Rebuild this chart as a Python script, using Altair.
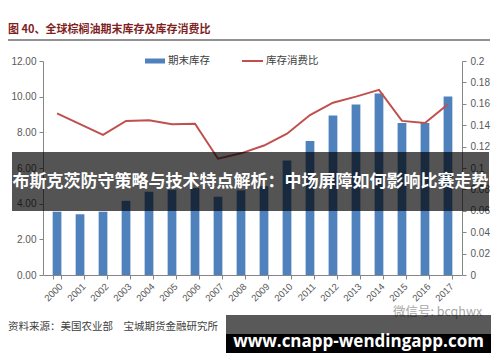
import altair as alt
import pandas as pd

years = [str(y) for y in range(2000, 2018)]
stocks = [3.55, 3.40, 3.55, 4.16, 4.67, 4.78, 4.88, 4.39, 4.75, 4.98, 6.42, 7.52, 8.95, 9.56, 10.18, 8.53, 8.53, 10.01]
ratio = [0.151, 0.141, 0.131, 0.144, 0.1446, 0.141, 0.1414, 0.1087, 0.1137, 0.121, 0.132, 0.1495, 0.161, 0.1667, 0.173, 0.144, 0.142, 0.1595]

title_text = "图 40、全球棕榈油期末库存及库存消费比"
legend_bar = "期末库存"
legend_line = "库存消费比"
source_text = "资料来源：美国农业部\u3000宝城期货金融研究所"
banner_text = "布斯克茨防守策略与技术特点解析：中场屏障如何影响比赛走势"
url_text = "www.cnapp-wendingapp.com"
wm_text = "微信号: bcqhwx"

df = pd.DataFrame({"year": years, "stock": stocks, "ratio": ratio})
one = pd.DataFrame({"a": [0]})

FONT = "Noto Sans CJK SC"
AX = "#868686"
LAB = "#595959"

xenc = alt.X("year:N", sort=years,
             scale=alt.Scale(paddingInner=0.62, paddingOuter=0.42),
             axis=alt.Axis(title=None, labelAngle=-45, labelFontSize=9.5, labelColor=LAB,
                           domainColor=AX, tickColor=AX, tickSize=4, tickBand="extent",
                           labelFont="Liberation Sans", labelPadding=2))

bars = alt.Chart(df).mark_bar(color="#4F81BD").encode(
    x=xenc,
    y=alt.Y("stock:Q", scale=alt.Scale(domain=[0, 12], nice=False),
            axis=alt.Axis(title=None, orient="left", values=[0, 2, 4, 6, 8, 10, 12], format=".2f",
                          grid=False, labelFontSize=10, labelColor=LAB, domainColor=AX,
                          tickColor=AX, tickSize=4, labelPadding=3, labelFont="Liberation Sans")),
)

line = alt.Chart(df).mark_line(color="#C0504D", strokeWidth=2).encode(
    x=alt.X("year:N", sort=years),
    y=alt.Y("ratio:Q", scale=alt.Scale(domain=[0, 0.2], nice=False),
            axis=alt.Axis(title=None, orient="right",
                          values=[0, 0.02, 0.04, 0.06, 0.08, 0.1, 0.12, 0.14, 0.16, 0.18, 0.2],
                          format=".2~f", grid=False, labelFontSize=10, labelColor=LAB,
                          domainColor=AX, tickColor=AX, tickSize=4, labelPadding=4,
                          labelFont="Liberation Sans")),
)

base = alt.Chart(one)

def txt(s, x, y, size, color, weight="normal", align="left", font=FONT):
    return base.mark_text(text=s, fontSize=size, color=color, fontWeight=weight,
                          align=align, baseline="middle", font=font).encode(
        x=alt.value(x), y=alt.value(y))

def rect(x1, x2, y1, y2, color, opacity=1.0):
    return base.mark_rect(color=color, opacity=opacity).encode(
        x=alt.value(x1), x2=alt.value(x2), y=alt.value(y1), y2=alt.value(y2))

title = txt(title_text, -35, -31, 11, "#7F1F1F", weight="bold")
title_rule = base.mark_rule(color="#6e6e6e", strokeWidth=1.5).encode(
    x=alt.value(-35), x2=alt.value(447), y=alt.value(-21))

leg_rect = rect(102, 122, -2.5, 2.5, "#4F81BD")
leg_t1 = txt(legend_bar, 125, 0, 10.5, "#404040")
leg_line = base.mark_rule(color="#C0504D", strokeWidth=2).encode(
    x=alt.value(199), x2=alt.value(220), y=alt.value(0))
leg_t2 = txt(legend_line, 223, 0, 10.5, "#404040")

source = txt(source_text, -35, 266, 10.5, "#404040")
wm = txt(wm_text, 350, 251, 12.5, "#a8a8a8")

banner = rect(-31, 446, 91, 150, "black", 0.67)
banner_t = txt(banner_text, 207.5, 121, 17, "white", weight="bold", align="center")

box1 = rect(183, 448, 254, 273, "black", 0.65)
box2 = rect(183, 448, 273, 292, "black")
url = txt(url_text, 315.5, 281, 17, "white", weight="bold", align="center", font="Open Sans")

chart = alt.layer(
    bars, line,
    title, title_rule, leg_rect, leg_t1, leg_line, leg_t2, source, wm,
    banner, banner_t, box1, box2, url,
).resolve_scale(y="independent").properties(
    width=419, height=214,
    autosize=alt.AutoSizeParams(type="none"),
    padding={"left": 35, "top": 53, "right": 30, "bottom": 79},
    background="white",
).configure_view(stroke=None)

chart.save("out.html", embed_options={"renderer": "svg", "actions": False})
